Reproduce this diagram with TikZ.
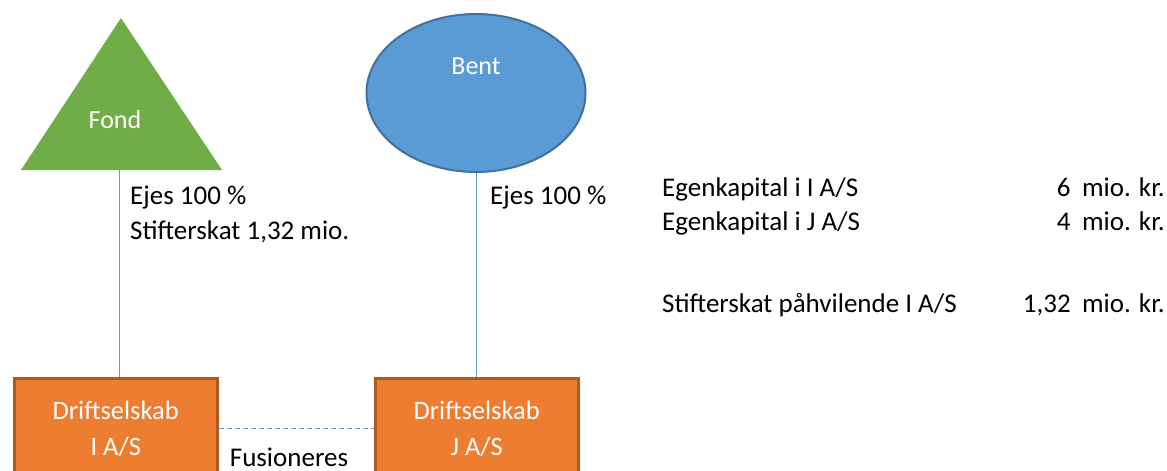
\documentclass[tikz,border=0pt]{standalone}
\usepackage{fontspec}
\setmainfont{Carlito}
\usetikzlibrary{shapes.geometric}
\definecolor{fondgreen}{HTML}{70AD47}
\definecolor{bentblue}{HTML}{5B9BD5}
\definecolor{bentedge}{HTML}{41719C}
\definecolor{boxorange}{HTML}{ED7D31}
\definecolor{boxedge}{HTML}{AE5A21}
\tikzset{
  txt/.style={font=\fontsize{27}{31}\selectfont, inner sep=0pt, text=black},
  wtxt/.style={font=\fontsize{26}{36}\selectfont, inner sep=0pt, text=white, align=center},
  company/.style={draw=boxedge, line width=2.5pt, fill=boxorange, minimum width=203pt,
    minimum height=102pt, anchor=north west, inner sep=0pt, text=white, align=center,
    font=\fontsize{26.5}{36}\selectfont},
  owner/.style={draw=bentblue, line width=1pt},
}
\begin{document}
\begin{tikzpicture}[x=1pt,y=-1pt]
\useasboundingbox (0,0) rectangle (1167,471);
\begin{scope}
\clip (0,0) rectangle (1167,471);
% Foundation (triangle)
\fill[fondgreen] (121,18) -- (222,170) -- (21,170) -- cycle;
\node[wtxt] (fond) at (115,120) {Fond};
\coordinate (fondfoot) at (119,170);
% Shareholder (ellipse)
\node[ellipse, draw=bentedge, line width=2pt, fill=bentblue, minimum width=219pt,
  minimum height=158pt, inner sep=0pt] (bent) at (476,93) {};
\node[wtxt] (bentname) at (476,66) {Bent};
% Operating companies
\node[company] (boxI) at (13,377) {Driftselskab\\I A/S};
\node[company] (boxJ) at (374,377) {Driftselskab\\J A/S};
\end{scope}
% Ownership lines
\draw[owner] (fondfoot) -- (fondfoot |- boxI.north);
\draw[owner] (bent.south) -- (bent.south |- boxJ.north);
% Merger link
\draw[bentblue, line width=1pt, dash pattern=on 5pt off 3pt] (boxI.east |- 0,428) coordinate (mergeA) -- (boxJ.west |- 0,428) coordinate (mergeB);
\node[txt] (fusion) at (289,457) {Fusioneres};
% Ownership labels
\node[txt, anchor=base west] (ejesI) at (130,204) {Ejes 100 \%};
\node[txt, anchor=base west] (stifter) at (130,239) {Stifterskat 1,32 mio.};
\node[txt, anchor=base west] (ejesJ) at (490,204) {Ejes 100 \%};
% Figures
\node[txt, anchor=base west] (egI) at (662,196) {Egenkapital i I A/S};
\node[txt, anchor=base west] (egJ) at (662,230) {Egenkapital i J A/S};
\node[txt, anchor=base west] (stp) at (662,312) {Stifterskat påhvilende I A/S};
\node[txt, anchor=base east] (unitI) at (1165,196) {mio. kr.};
\node[txt, anchor=base east] (unitJ) at (1165,230) {mio. kr.};
\node[txt, anchor=base east] (unitS) at (1165,312) {mio. kr.};
\node[txt, anchor=base east] (valI) at ([xshift=-11pt]unitI.base west) {6};
\node[txt, anchor=base east] (valJ) at ([xshift=-11pt]unitJ.base west) {4};
\node[txt, anchor=base east] (valS) at ([xshift=-11pt]unitS.base west) {1,32};
\end{tikzpicture}
\end{document}
